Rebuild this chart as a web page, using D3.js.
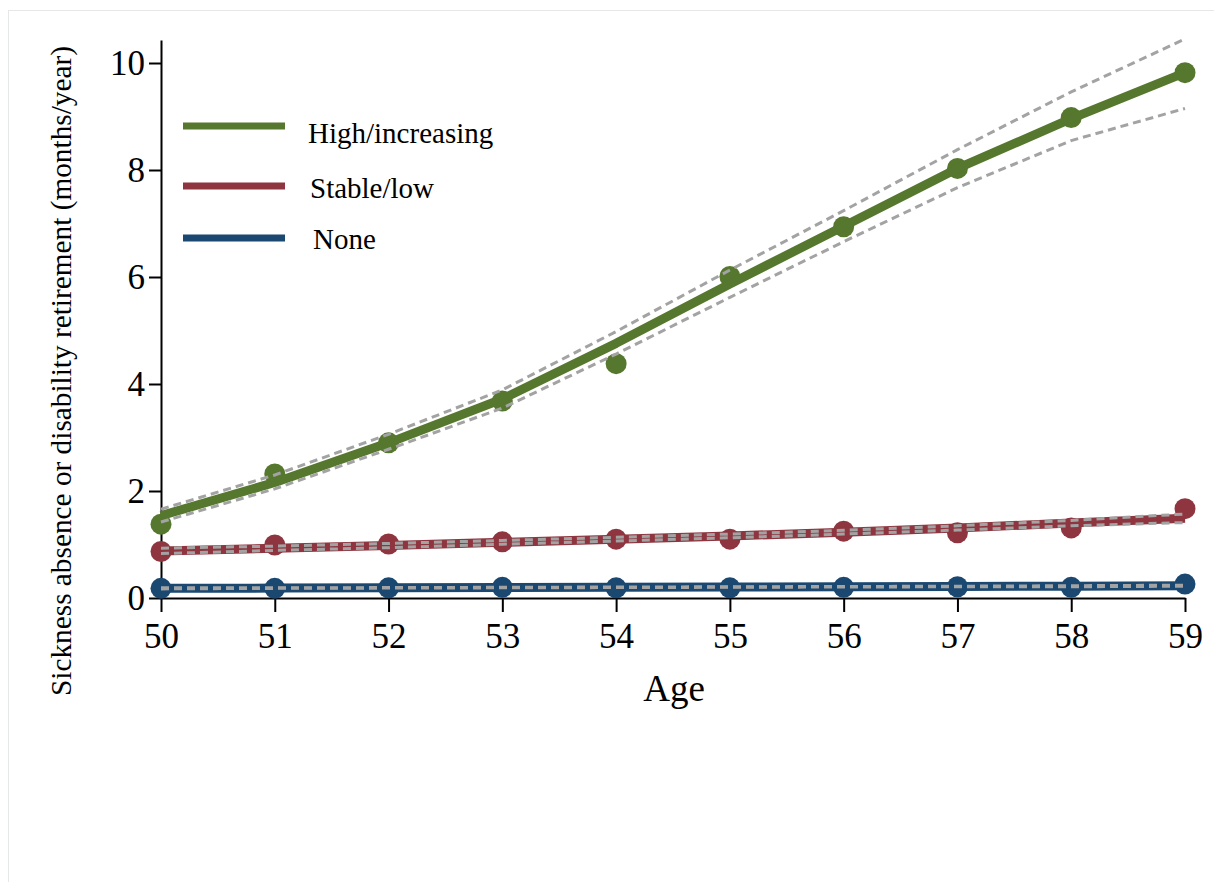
<!DOCTYPE html>
<html>
<head>
<meta charset="utf-8">
<script src="https://cdn.jsdelivr.net/npm/d3@7"></script>
<style>
  html, body { margin: 0; padding: 0; background: #fff; }
  svg { display: block; font-family: "Liberation Serif", "Times New Roman", serif; }
</style>
</head>
<body>
<svg id="chart" width="1214" height="882"></svg>
<script>
// Age in years
const ages = [50, 51, 52, 53, 54, 55, 56, 57, 58, 59];

// Observed means (months/year) per trajectory group
const highObserved   = [1.38, 2.32, 2.90, 3.68, 4.38, 6.01, 6.94, 8.03, 8.98, 9.82];
const stableObserved = [0.87, 0.99, 1.01, 1.05, 1.10, 1.10, 1.25, 1.22, 1.31, 1.67];
const noneObserved   = [0.18, 0.18, 0.19, 0.20, 0.19, 0.19, 0.20, 0.21, 0.20, 0.26];

// Fitted trajectories
const highFitted   = [1.54, 2.16, 2.90, 3.72, 4.76, 5.87, 6.95, 8.03, 8.96, 9.82];
const stableFitted = [0.88, 0.93, 0.98, 1.04, 1.10, 1.16, 1.23, 1.31, 1.40, 1.49];
const noneFitted   = [0.18, 0.185, 0.19, 0.195, 0.20, 0.205, 0.21, 0.215, 0.22, 0.23];

// 95% confidence bands of the fitted trajectories
const highUpper   = [1.66, 2.30, 3.06, 3.89, 4.98, 6.13, 7.24, 8.38, 9.46, 10.45];
const highLower   = [1.42, 2.04, 2.78, 3.55, 4.56, 5.62, 6.66, 7.67, 8.55, 9.15];
const stableUpper = [0.93, 0.97, 1.02, 1.075, 1.135, 1.195, 1.265, 1.35, 1.45, 1.57];
const stableLower = [0.83, 0.89, 0.94, 1.005, 1.065, 1.125, 1.195, 1.27, 1.35, 1.41];
const noneUpper   = [0.19, 0.19, 0.195, 0.20, 0.205, 0.21, 0.215, 0.22, 0.23, 0.24];
const noneLower   = [0.17, 0.18, 0.185, 0.19, 0.195, 0.20, 0.205, 0.21, 0.21, 0.22];

const groupNames = ["High/increasing", "Stable/low", "None"];
const groupColors = ["#56772e", "#8e353f", "#1b4871"];
const yTicks = [0, 2, 4, 6, 8, 10];

const groups = [
  { name: groupNames[0], color: groupColors[0], obs: highObserved,   fit: highFitted,   up: highUpper,   lo: highLower },
  { name: groupNames[1], color: groupColors[1], obs: stableObserved, fit: stableFitted, up: stableUpper, lo: stableLower },
  { name: groupNames[2], color: groupColors[2], obs: noneObserved,   fit: noneFitted,   up: noneUpper,   lo: noneLower }
];

const svg = d3.select("#chart");

// light outer frame
svg.append("rect")
  .attr("x", 8.5).attr("y", 10.5).attr("width", 1220).attr("height", 900)
  .attr("fill", "none").attr("stroke", "#e6e8e8").attr("stroke-width", 1);

const x = d3.scaleLinear().domain([50, 59]).range([161, 1185]);
const y = d3.scaleLinear().domain([0, 10.43]).range([598, 40]);

// axes
const xAxis = svg.append("g")
  .attr("transform", `translate(0,${y(0)})`)
  .call(d3.axisBottom(x).tickValues(ages).tickFormat(d3.format("d")).tickSize(14).tickSizeOuter(0));
const yAxis = svg.append("g")
  .attr("transform", `translate(${x(50)},0)`)
  .call(d3.axisLeft(y).tickValues(yTicks).tickSize(12).tickSizeOuter(0));

[xAxis, yAxis].forEach(g => {
  g.select(".domain").attr("stroke", "#000").attr("stroke-width", 2);
  g.selectAll(".tick line").attr("stroke", "#000").attr("stroke-width", 2);
  g.selectAll(".tick text")
    .attr("fill", "#000")
    .attr("font-family", "'Liberation Serif', 'Times New Roman', serif")
    .attr("font-size", 35);
});
xAxis.selectAll(".tick text").attr("y", 25);
yAxis.selectAll(".tick text").attr("x", -16);

// axis titles
svg.append("text")
  .attr("x", 674).attr("y", 701)
  .attr("text-anchor", "middle")
  .attr("font-size", 37)
  .text("Age");

svg.append("text")
  .attr("transform", `translate(71,371) rotate(-90)`)
  .attr("text-anchor", "middle")
  .attr("font-size", 29)
  .attr("textLength", 650)
  .attr("lengthAdjust", "spacingAndGlyphs")
  .text("Sickness absence or disability retirement (months/year)");

const line = d3.line()
  .x((d, i) => x(ages[i]))
  .y(d => y(d));

// draw groups bottom-up so the high group sits on top
groups.slice().reverse().forEach(gr => {
  const g = svg.append("g");
  g.selectAll("circle")
    .data(gr.obs)
    .join("circle")
    .attr("cx", (d, i) => x(ages[i]))
    .attr("cy", d => y(d))
    .attr("r", 10.5)
    .attr("fill", gr.color);
  g.append("path")
    .attr("d", line(gr.fit))
    .attr("fill", "none")
    .attr("stroke", gr.color)
    .attr("stroke-width", 9)
    .attr("stroke-linejoin", "round");
  [gr.up, gr.lo].forEach(band => {
    g.append("path")
      .attr("d", line(band))
      .attr("fill", "none")
      .attr("stroke", "#a3a3a3")
      .attr("stroke-width", 3)
      .attr("stroke-dasharray", "8,5");
  });
});

// legend
const legendY = [126, 186, 238];
const legendTextX = [308, 310, 313];
const legendTextY = [143, 198, 249];
groups.forEach((gr, i) => {
  svg.append("line")
    .attr("x1", 183).attr("x2", 285)
    .attr("y1", legendY[i]).attr("y2", legendY[i])
    .attr("stroke", gr.color).attr("stroke-width", 7);
  svg.append("text")
    .attr("x", legendTextX[i]).attr("y", legendTextY[i])
    .attr("font-size", 29)
    .text(gr.name);
});
</script>
</body>
</html>
